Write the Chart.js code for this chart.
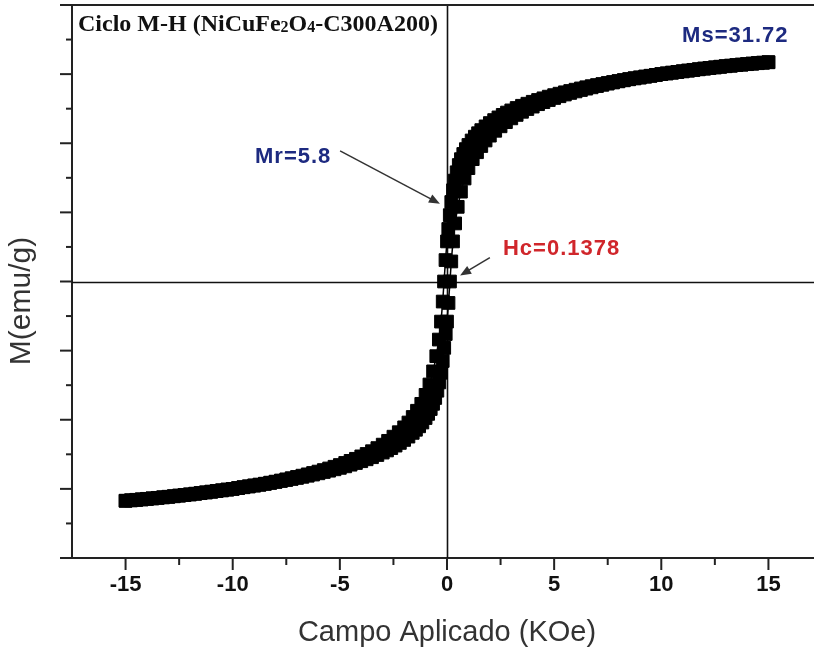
<!DOCTYPE html>
<html><head><meta charset="utf-8">
<script src="https://cdn.jsdelivr.net/npm/chart.js@4.4.0/dist/chart.umd.min.js"></script>
<style>
html,body{margin:0;padding:0;overflow:hidden;background:#fff;}
canvas{display:block;}
</style></head><body>
<canvas id="c" width="836" height="653"></canvas>
<script>
// Descending branch (from +15 kOe to -15 kOe)
const fieldDown = [15,14.75,14.5,14.25,14,13.75,13.5,13.25,13,12.75,12.5,12.25,12,11.75,11.5,11.25,11,10.75,10.5,10.25,10,9.75,9.5,9.25,9,8.75,8.5,8.25,8,7.75,7.5,7.25,7,6.75,6.5,6.25,6,5.75,5.5,5.25,5,4.75,4.5,4.25,4,3.75,3.5,3.25,3,2.8,2.6,2.4,2.2,2,1.8,1.6,1.45,1.3,1.15,1,0.88,0.76,0.65,0.55,0.45,0.36,0.28,0.2,0.13,0.06,0,-0.07,-0.1378,-0.2,-0.28,-0.38,-0.5,-0.65,-0.82,-1,-1.2,-1.4,-1.6,-1.8,-2,-2.25,-2.5,-2.75,-3,-3.25,-3.5,-3.75,-4,-4.25,-4.5,-4.75,-5,-5.25,-5.5,-5.75,-6,-6.25,-6.5,-6.75,-7,-7.25,-7.5,-7.75,-8,-8.25,-8.5,-8.75,-9,-9.25,-9.5,-9.75,-10,-10.25,-10.5,-10.75,-11,-11.25,-11.5,-11.75,-12,-12.25,-12.5,-12.75,-13,-13.25,-13.5,-13.75,-14,-14.25,-14.5,-14.75,-15];
const magDown = [31.72,31.65,31.58,31.51,31.44,31.37,31.3,31.22,31.15,31.07,30.98,30.89,30.8,30.71,30.62,30.52,30.42,30.32,30.22,30.11,30.0,29.89,29.77,29.65,29.53,29.41,29.28,29.14,29.0,28.86,28.72,28.57,28.42,28.26,28.1,27.93,27.75,27.56,27.37,27.17,26.96,26.74,26.5,26.26,26.0,25.72,25.42,25.1,24.75,24.44,24.1,23.74,23.35,22.92,22.44,21.9,21.45,20.95,20.4,19.75,19.15,18.45,17.7,16.85,15.8,14.6,13.2,11.5,9.6,7.6,5.8,3.1,0,-2.9,-5.8,-8.4,-10.8,-13.0,-14.9,-16.4,-17.7,-18.7,-19.6,-20.4,-21.1,-21.8,-22.45,-23.05,-23.6,-24.1,-24.55,-24.95,-25.3,-25.65,-25.95,-26.25,-26.55,-26.8,-27.05,-27.28,-27.5,-27.7,-27.9,-28.09,-28.27,-28.45,-28.62,-28.79,-28.95,-29.1,-29.25,-29.38,-29.5,-29.63,-29.75,-29.88,-30.0,-30.1,-30.2,-30.3,-30.4,-30.5,-30.6,-30.7,-30.8,-30.89,-30.97,-31.06,-31.14,-31.22,-31.3,-31.38,-31.45,-31.53,-31.6,-31.66,-31.72];
// Ascending branch (from -15 kOe to +15 kOe)
const fieldUp = [-15,-14.75,-14.5,-14.25,-14,-13.75,-13.5,-13.25,-13,-12.75,-12.5,-12.25,-12,-11.75,-11.5,-11.25,-11,-10.75,-10.5,-10.25,-10,-9.75,-9.5,-9.25,-9,-8.75,-8.5,-8.25,-8,-7.75,-7.5,-7.25,-7,-6.75,-6.5,-6.25,-6,-5.75,-5.5,-5.25,-5,-4.75,-4.5,-4.25,-4,-3.75,-3.5,-3.25,-3,-2.8,-2.6,-2.4,-2.2,-2,-1.8,-1.6,-1.45,-1.3,-1.15,-1,-0.88,-0.76,-0.65,-0.55,-0.45,-0.36,-0.28,-0.2,-0.13,-0.06,0,0.07,0.1378,0.2,0.28,0.38,0.5,0.65,0.82,1,1.2,1.4,1.6,1.8,2,2.25,2.5,2.75,3,3.25,3.5,3.75,4,4.25,4.5,4.75,5,5.25,5.5,5.75,6,6.25,6.5,6.75,7,7.25,7.5,7.75,8,8.25,8.5,8.75,9,9.25,9.5,9.75,10,10.25,10.5,10.75,11,11.25,11.5,11.75,12,12.25,12.5,12.75,13,13.25,13.5,13.75,14,14.25,14.5,14.75,15];
const magUp = [-31.72,-31.65,-31.58,-31.51,-31.44,-31.37,-31.3,-31.22,-31.15,-31.07,-30.98,-30.89,-30.8,-30.71,-30.62,-30.52,-30.42,-30.32,-30.22,-30.11,-30.0,-29.89,-29.77,-29.65,-29.53,-29.41,-29.28,-29.14,-29.0,-28.86,-28.72,-28.57,-28.42,-28.26,-28.1,-27.93,-27.75,-27.56,-27.37,-27.17,-26.96,-26.74,-26.5,-26.26,-26.0,-25.72,-25.42,-25.1,-24.75,-24.44,-24.1,-23.74,-23.35,-22.92,-22.44,-21.9,-21.45,-20.95,-20.4,-19.75,-19.15,-18.45,-17.7,-16.85,-15.8,-14.6,-13.2,-11.5,-9.6,-7.6,-5.8,-3.1,0,2.9,5.8,8.4,10.8,13.0,14.9,16.4,17.7,18.7,19.6,20.4,21.1,21.8,22.45,23.05,23.6,24.1,24.55,24.95,25.3,25.65,25.95,26.25,26.55,26.8,27.05,27.28,27.5,27.7,27.9,28.09,28.27,28.45,28.62,28.79,28.95,29.1,29.25,29.38,29.5,29.63,29.75,29.88,30.0,30.1,30.2,30.3,30.4,30.5,30.6,30.7,30.8,30.89,30.97,31.06,31.14,31.22,31.3,31.38,31.45,31.53,31.6,31.66,31.72];
const xTickLabels = ['-15','-10','-5','0','5','10','15'];
const xTickValues = [-15,-10,-5,0,5,10,15];
const annotationTexts = ['Ms=31.72','Mr=5.8','Hc=0.1378'];
const titleParts = ['Ciclo M-H (NiCuFe','2','O','4','-C300A200)'];
const axisTitles = ['Campo Aplicado (KOe)','M(emu/g)'];

const SANS = '"Liberation Sans", Arial, sans-serif';
const SERIF = '"Liberation Serif", "Times New Roman", serif';

function arrow(ctx, x1, y1, x2, y2) {
  const ang = Math.atan2(y2 - y1, x2 - x1);
  const hl = 11, hw = 4.5;
  ctx.beginPath();
  ctx.moveTo(x1, y1);
  ctx.lineTo(x2 - Math.cos(ang) * hl * 0.8, y2 - Math.sin(ang) * hl * 0.8);
  ctx.stroke();
  ctx.beginPath();
  ctx.moveTo(x2, y2);
  ctx.lineTo(x2 - Math.cos(ang) * hl - Math.sin(ang) * hw, y2 - Math.sin(ang) * hl + Math.cos(ang) * hw);
  ctx.lineTo(x2 - Math.cos(ang) * hl + Math.sin(ang) * hw, y2 - Math.sin(ang) * hl - Math.cos(ang) * hw);
  ctx.closePath();
  ctx.fill();
}

const decor = {
  id: 'decor',
  beforeDatasetsDraw(chart) {
    const {ctx, chartArea: a, scales: {x, y}} = chart;
    ctx.save();
    ctx.strokeStyle = '#111';
    ctx.lineWidth = 1.6;
    const x0 = Math.round(x.getPixelForValue(0)) + 0.5;
    const y0 = Math.round(y.getPixelForValue(0)) + 0.5;
    ctx.beginPath();
    ctx.moveTo(x0, a.top); ctx.lineTo(x0, a.bottom);
    ctx.moveTo(a.left, y0); ctx.lineTo(a.right, y0);
    ctx.stroke();
    ctx.restore();
  },
  afterDraw(chart) {
    const {ctx, chartArea: a, scales: {x, y}} = chart;
    ctx.save();
    // top frame line
    ctx.strokeStyle = '#222';
    ctx.lineWidth = 2;
    ctx.beginPath();
    ctx.moveTo(a.left, a.top); ctx.lineTo(a.right, a.top);
    ctx.stroke();
    // tick marks
    y.ticks.forEach(t => {
      const py = y.getPixelForValue(t.value);
      const len = (Math.abs(t.value) % 10 === 0) ? 12 : 6;
      ctx.beginPath(); ctx.moveTo(a.left, py); ctx.lineTo(a.left - len, py); ctx.stroke();
    });
    x.ticks.forEach(t => {
      if (t.value <= x.min || t.value >= x.max) return;
      const px = x.getPixelForValue(t.value);
      const len = (Math.abs(t.value) % 5 === 0) ? 12 : 7;
      ctx.beginPath(); ctx.moveTo(px, a.bottom); ctx.lineTo(px, a.bottom + len); ctx.stroke();
    });
    // y axis title
    ctx.save();
    ctx.translate(22, 301);
    ctx.rotate(-Math.PI / 2);
    ctx.font = '30px ' + SANS;
    ctx.fillStyle = '#333';
    ctx.textAlign = 'center';
    ctx.textBaseline = 'middle';
    ctx.fillText(axisTitles[1], 0, 0);
    ctx.restore();
    // title inside plot
    ctx.fillStyle = '#111';
    ctx.textBaseline = 'alphabetic';
    let tx = a.left + 6, ty = 31;
    titleParts.forEach((p, i) => {
      const sub = (i === 1 || i === 3);
      ctx.font = 'bold ' + (sub ? 16 : 24) + 'px ' + SERIF;
      ctx.fillText(p, tx, ty + (sub ? 1 : 0));
      tx += ctx.measureText(p).width;
    });
    // annotations
    ctx.font = 'bold 22px ' + SANS;
    try { ctx.letterSpacing = '1px'; } catch (e) {}
    ctx.fillStyle = '#1d2a80';
    ctx.fillText(annotationTexts[0], x.getPixelForValue(10.97), y.getPixelForValue(34.7));
    ctx.fillText(annotationTexts[1], x.getPixelForValue(-8.96), y.getPixelForValue(17.15));
    ctx.fillStyle = '#d0262b';
    ctx.fillText(annotationTexts[2], x.getPixelForValue(2.61), y.getPixelForValue(3.9));
    try { ctx.letterSpacing = '0px'; } catch (e) {}
    ctx.strokeStyle = '#333';
    ctx.fillStyle = '#333';
    ctx.lineWidth = 1.5;
    arrow(ctx, x.getPixelForValue(-4.99), y.getPixelForValue(18.9), x.getPixelForValue(-0.33), y.getPixelForValue(11.26));
    arrow(ctx, x.getPixelForValue(2.0), y.getPixelForValue(3.46), x.getPixelForValue(0.61), y.getPixelForValue(0.87));
    ctx.restore();
  }
};

const pts = (hs, ms) => hs.map((h, i) => ({x: h, y: ms[i]}));

const dsStyle = {
  showLine: true,
  borderColor: '#000',
  borderWidth: 1.5,
  backgroundColor: '#000',
  pointStyle: 'rect',
  pointRadius: 9,
  pointHoverRadius: 9,
  pointBorderWidth: 1,
  pointBorderColor: '#000',
  pointBackgroundColor: '#000',
  clip: false
};

new Chart(document.getElementById('c'), {
  type: 'scatter',
  data: {
    datasets: [
      Object.assign({label: 'Descending', data: pts(fieldDown, magDown)}, dsStyle),
      Object.assign({label: 'Ascending', data: pts(fieldUp, magUp)}, dsStyle)
    ]
  },
  options: {
    responsive: false,
    animation: false,
    layout: {autoPadding: false, padding: {top: 5, right: 0, left: 0, bottom: 0}},
    plugins: {legend: {display: false}, tooltip: {enabled: false}},
    scales: {
      x: {
        type: 'linear', position: 'bottom', min: -17.5, max: 17.5,
        afterFit(s) { s.height = 95; },
        grid: {display: true, drawOnChartArea: false, drawTicks: false},
        border: {display: true, color: '#222', width: 2},
        ticks: {
          stepSize: 2.5, autoSkip: false, maxRotation: 0, padding: 14,
          color: '#111', font: {family: SANS, size: 22, weight: 'bold'},
          callback: (v) => { const i = xTickValues.indexOf(v); return i >= 0 ? xTickLabels[i] : ''; }
        },
        title: {display: true, text: axisTitles[0], color: '#333', font: {family: SANS, size: 29}, padding: {top: 0, bottom: 3}}
      },
      y: {
        min: -40, max: 40,
        afterFit(s) { s.width = 72; },
        grid: {display: true, drawOnChartArea: false, drawTicks: false},
        border: {display: true, color: '#222', width: 2},
        ticks: {stepSize: 5, display: false},
        title: {display: false}
      }
    }
  },
  plugins: [decor]
});
</script>
</body></html>
